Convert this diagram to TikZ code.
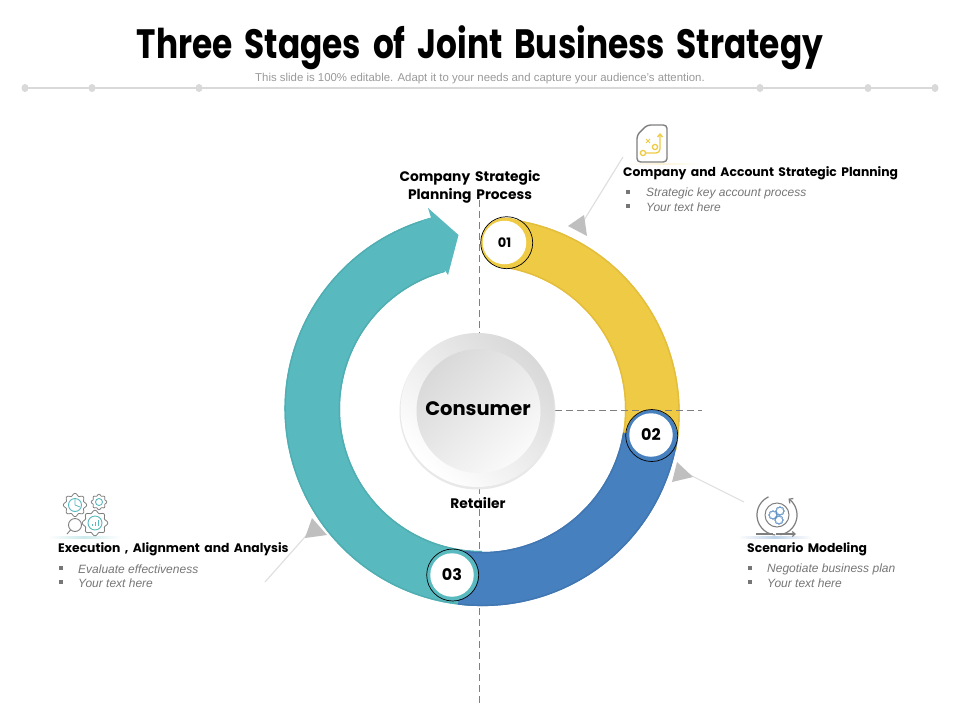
\documentclass[tikz,border=0pt]{standalone}
\usepackage{fontspec}
\setmainfont{Liberation Sans}
\newfontfamily\headf{Poppins}
\newfontfamily\titlef{Poppins}[WordSpace=1.7]
\usetikzlibrary{arrows.meta}
\definecolor{tealc}{HTML}{58B9BE}
\definecolor{teale}{HTML}{50AEB3}
\definecolor{yelc}{HTML}{EFCB45}
\definecolor{yele}{HTML}{E3BD3C}
\definecolor{bluc}{HTML}{4780BE}
\definecolor{blue2}{HTML}{4076B1}
\definecolor{ruleg}{HTML}{D9D9D9}
\definecolor{calloutg}{HTML}{BFBFBF}
\definecolor{iconG}{HTML}{7F7F7F}
\definecolor{bodyg}{HTML}{767676}
\definecolor{dashg}{HTML}{7F7F7F}
\tikzset{
  x=1pt,y=-1pt,
  ttl/.style={font=\titlef\bfseries\fontsize{41}{44}\selectfont,text=black,inner sep=0pt,xscale=0.8},
  hd/.style={font=\headf\bfseries\fontsize{12.35}{14}\selectfont,text=black,inner sep=0pt,anchor=west},
  mid/.style={font=\headf\bfseries\fontsize{13.8}{18}\selectfont,text=black,inner sep=0pt,align=center},
  body/.style={font=\itshape\fontsize{12}{13}\selectfont,text=bodyg,inner sep=0pt,anchor=west},
  bul/.style={fill=bodyg,minimum size=4pt,inner sep=0pt,rectangle},
  hair/.style={draw=dashg,line width=.7pt,dash pattern=on 7pt off 4pt},
  callout/.style={draw=black!13,line width=1.1pt},
  tri/.style={fill=calloutg},
  hub/.style={circle,draw=black,line width=.7pt,minimum size=52pt,inner sep=0pt},
  hubw/.style={circle,fill=white,minimum size=43.5pt,inner sep=0pt,font=\headf\bfseries\fontsize{16}{18}\selectfont},
  ic/.style={draw=iconG,line width=1pt},
}
\newcommand\px{482}
\newcommand\py{409}
% colour, edge, start, end, inner r, outer r at start, outer r at end
\newcommand\band[7]{%
  \fill[#1] plot[domain=#3:#4,samples=90,variable=\t] ({\px+(#6+(#7-#6)*(\t-#3)/(#4-#3))*cos(\t)},{\py+(#6+(#7-#6)*(\t-#3)/(#4-#3))*sin(\t)})
     -- plot[domain=#4:#3,samples=90,variable=\t] ({\px+#5*cos(\t)},{\py+#5*sin(\t)}) -- cycle;
  \draw[#2,line width=1.4pt] plot[domain=#3:#4,samples=90,variable=\t] ({\px+(#6+(#7-#6)*(\t-#3)/(#4-#3)-.7)*cos(\t)},{\py+(#6+(#7-#6)*(\t-#3)/(#4-#3)-.7)*sin(\t)});
  \draw[#2,line width=1.4pt] plot[domain=#3:#4,samples=90,variable=\t] ({\px+(#5+.7)*cos(\t)},{\py+(#5+.7)*sin(\t)});
}
\newcommand\gearic[4]{%
  \draw[#4,line width=.8pt] plot[domain=0:360,samples=97,variable=\t] ({#1+(#3+.11*#3*cos(8*\t))*cos(\t)},{#2+(#3+.11*#3*cos(8*\t))*sin(\t)}) -- cycle;
}
\begin{document}
\begin{tikzpicture}
\useasboundingbox[fill=white] (0,0) rectangle (960,720);
% title
\node[ttl] (title) at (480,48) {Three Stages of Joint Business Strategy};
\node[font=\fontsize{11.4}{12}\selectfont,text=black!40,inner sep=0pt] (sub) at (480,79) {This slide is 100\% editable. Adapt it to your needs and capture your audience's attention.};
\draw[ruleg,line width=2.5pt] (25,88) -- (935,88);
\foreach \d in {25,92,199,760,868,935} \fill[ruleg] (\d,88) ellipse [x radius=3.5,y radius=4];
% dashed guides under the ring
\draw[hair] (479,200) -- (479,335);
\draw[hair] (479,487) -- (479,705);
% ring
\band{tealc}{teale}{90}{254.8}{142}{197}{198}
\fill[tealc] (421.5,221) -- (431,217.5) -- (428,208) -- (458.5,235) -- (448,275) -- (445,270.5) -- (438.5,273.6) -- cycle;
\band{yelc}{yele}{-82}{12}{143}{192}{198.5}
\band{bluc}{blue2}{9.5}{97}{143}{198}{197}
\draw[hair] (555,410) -- (702,410);
% hubs
\fill[yelc] (506,243) circle (25.5);
\node[hub] (h1c) at (506.7,242.7) {};
\node[hubw,font=\headf\bfseries\fontsize{13}{15}\selectfont] (h1) at (504.5,242.5) {01};
\fill[bluc] (651.7,435.5) circle (25.5);
\node[hub] (h2c) at (651.7,435.5) {};
\node[hubw] (h2) at (651,435) {02};
\fill[tealc] (452.5,575) circle (25.5);
\node[hub] (h3c) at (452.7,575) {};
\node[hubw] (h3) at (452,575) {03};
% centre
\fill[black!9] (477.5,411.5) circle (78);
\shade[top color=black!15,bottom color=white,shading angle=-45] (477.5,410) circle (77);
\shade[top color=black!15,bottom color=black!2,shading angle=45] (478.5,411) circle (62);
\node[font=\headf\bfseries\fontsize{19.5}{20}\selectfont,inner sep=0pt] (cons) at (478,409) {Consumer};
\node[mid] (ret) at (478,503) {Retailer};
\node[mid] (csp) at (470,187) {Company Strategic\\Planning Process};
% callouts
\coordinate (c1a) at (623,157); \coordinate (c1b) at (581,225);
\coordinate (c2a) at (744,502); \coordinate (c2b) at (684,472);
\coordinate (c3a) at (265,582); \coordinate (c3b) at (312,529);
\draw[callout] (c1a) -- (c1b);
\draw[callout] (c2a) -- (c2b);
\draw[callout] (c3a) -- (c3b);
\fill[tri] (568,226) -- (584,215) -- (587,236) -- cycle;
\fill[tri] (677,462) -- (693,477) -- (672,482) -- cycle;
\fill[tri] (312,518) -- (327,535) -- (305,538) -- cycle;
% icon shelves
\shade[left color=white,right color=yelc!22] (625,163) rectangle (660,164.5);
\shade[left color=yelc!22,right color=white] (660,163) rectangle (700,164.5);
\shade[left color=white,right color=bluc!35] (738,536.5) rectangle (775,538.5);
\shade[left color=bluc!35,right color=white] (775,536.5) rectangle (812,538.5);
\shade[left color=white,right color=tealc!30] (48,536.5) rectangle (84,538);
\shade[left color=tealc!30,right color=white] (84,536.5) rectangle (120,538);
% icon 1
\draw[ic,line width=1.4pt,rounded corners=3.5pt] (647,125) -- (667,125) -- (667,162) -- (637,162) -- (637,135) -- cycle;
\draw[yelc,line width=1.3pt] (643,153) circle (2.6);
\draw[yelc,line width=1.3pt] (655,147) circle (2.6);
\draw[yelc,line width=1.3pt,rounded corners=4pt,-{Straight Barb[length=3pt,width=5pt]}] (646,153) -- (660,153) -- (660,133);
\draw[yelc,line width=1pt] (646,139) -- (650,143) (650,139) -- (646,143);
% icon 2
\draw[ic,line width=1.2pt] plot[domain=95:245,samples=40,variable=\t] ({777+20*cos(\t)},{515+20*sin(\t)});
\draw[ic,line width=1.2pt,-{Straight Barb[length=3pt,width=6pt]}] plot[domain=80:-55,samples=40,variable=\t] ({777+20*cos(\t)},{515+20*sin(\t)});
\draw[ic] (777,515) circle (12);
\foreach \a/\b in {773/515,780/511,779/520} \gearic{\a}{\b}{3.8}{bluc};
\draw[ic,line width=1.1pt] (756,534) -- (773,534);
\draw[ic,line width=1.1pt,-{Straight Barb[length=3pt,width=5pt]}] (776,534) -- (796,534);
% icon 3
\gearic{75}{505}{10.5}{iconG}
\gearic{99}{502}{7}{iconG}
\gearic{95}{523}{11.5}{iconG}
\draw[tealc,line width=.9pt] (75,505) circle (6.5);
\draw[tealc,line width=.8pt] (75,505) -- (75,499) (75,505) -- (80,507);
\draw[tealc,line width=.9pt] (99,502) circle (3.5);
\draw[tealc,line width=.9pt] (95,523) circle (7);
\draw[tealc,line width=1pt] (92,526) -- (92,524) (95,526) -- (95,522) (98,526) -- (98,520);
\draw[ic,line width=.9pt] (75,525) circle (6.5) (70.5,530) -- (67,534);
% text blocks
\node[hd] (t1) at (623,173) {Company and Account Strategic Planning};
\node[bul] (b11) at (628,192) {}; \node[body] (t11) at (646,193) {Strategic key account process};
\node[bul] (b12) at (628,206) {}; \node[body] (t12) at (646,207) {Your text here};
\node[hd] (t2) at (747,549) {Scenario Modeling};
\node[bul] (b21) at (750,568) {}; \node[body] (t21) at (767,569) {Negotiate business plan};
\node[bul] (b22) at (750,582) {}; \node[body] (t22) at (767,583) {Your text here};
\node[hd] (t3) at (58,549) {Execution , Alignment and Analysis};
\node[bul] (b31) at (61,568) {}; \node[body] (t31) at (78,569) {Evaluate effectiveness};
\node[bul] (b32) at (61,582) {}; \node[body] (t32) at (78,583) {Your text here};
\end{tikzpicture}
\end{document}
